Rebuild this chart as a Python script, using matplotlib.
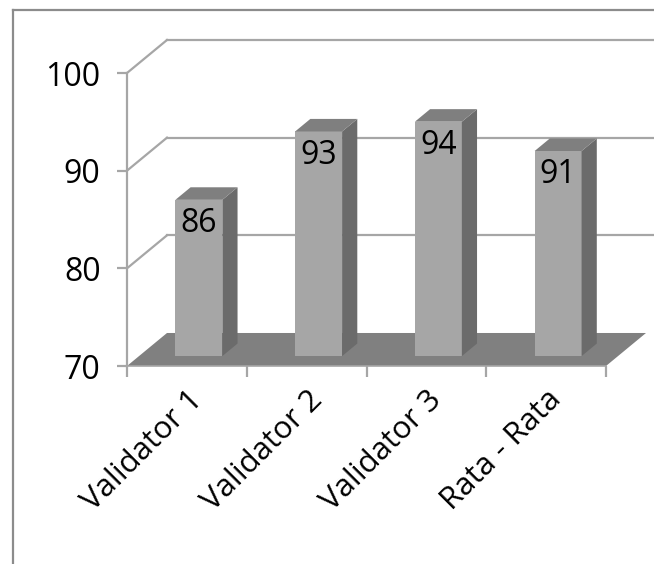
import numpy as np
import matplotlib
matplotlib.use('Agg')
import matplotlib.pyplot as plt
from matplotlib.patches import Polygon
from matplotlib.lines import Line2D
from matplotlib.transforms import offset_copy

# data
categories = ['Validator 1', 'Validator 2', 'Validator 3', 'Rata - Rata']
values = [86, 93, 94, 91]
y_ticks = [70, 80, 90, 100]

plt.rcParams['font.family'] = ['Open Sans', 'DejaVu Sans']

fig = plt.figure(figsize=(6.54, 5.64), dpi=100)
# front plane of the fake 3d box
ax = fig.add_axes([127 / 654, 198 / 564, 479 / 654, 293 / 564])
ax.set_xlim(0, len(categories))
ax.set_ylim(70, 100)

grid_col = '#a6a6a6'
dx, dy = 0.334, 3.38      # depth offset in data units
d0, d1 = 0.30, 0.68       # bar depth (fraction of box depth)
half_w = 0.196

# walls: gridlines on back wall + diagonals on side wall
for v in y_ticks[1:]:
    ax.plot([0, dx], [v, v + dy], color=grid_col, lw=1.6, clip_on=False, zorder=1)
    ax.plot([dx, 4.6], [v + dy, v + dy], color=grid_col, lw=1.6, clip_on=False, zorder=1)

# floor
floor = Polygon([(0, 70), (4, 70), (4 + dx, 70 + dy), (dx, 70 + dy)],
                closed=True, facecolor='#808080', edgecolor='none', zorder=2, clip_on=False)
ax.add_patch(floor)

# bars
for i, v in enumerate(values):
    c = i + 0.5
    xl, xr = c - half_w, c + half_w
    front = Polygon([(xl + d0 * dx, 70 + d0 * dy), (xr + d0 * dx, 70 + d0 * dy),
                     (xr + d0 * dx, v + d0 * dy), (xl + d0 * dx, v + d0 * dy)],
                    facecolor='#a6a6a6', edgecolor='none', zorder=3, clip_on=False)
    side = Polygon([(xr + d0 * dx, 70 + d0 * dy), (xr + d1 * dx, 70 + d1 * dy),
                    (xr + d1 * dx, v + d1 * dy), (xr + d0 * dx, v + d0 * dy)],
                   facecolor='#6b6b6b', edgecolor='none', zorder=3, clip_on=False)
    top = Polygon([(xl + d0 * dx, v + d0 * dy), (xr + d0 * dx, v + d0 * dy),
                   (xr + d1 * dx, v + d1 * dy), (xl + d1 * dx, v + d1 * dy)],
                  facecolor='#7f7f7f', edgecolor='none', zorder=3, clip_on=False)
    for p in (front, side, top):
        ax.add_patch(p)
    tr = offset_copy(ax.transData, fig=fig, x=0, y=-17, units='points')
    ax.text(c + d0 * dx, v + d0 * dy, str(v), transform=tr, ha='center', va='center',
            fontsize=23, color='black', zorder=4)

# axes styling
for s in ['top', 'right', 'bottom']:
    ax.spines[s].set_visible(False)
ax.spines['left'].set_color(grid_col)
ax.spines['left'].set_linewidth(1.6)
ax.set_yticks(y_ticks)
ax.set_yticklabels([str(t) for t in y_ticks], fontsize=23)
ax.tick_params(axis='y', length=7, width=1.6, color=grid_col, pad=12)

ax.set_xticks(np.arange(len(categories) + 1))
ax.set_xticklabels([])
ax.tick_params(axis='x', length=8, width=1.6, color=grid_col, direction='out')
ax.plot([0, 4], [70, 70], color=grid_col, lw=1.2, zorder=2.5, clip_on=False)

for i, name in enumerate(categories):
    tr = offset_copy(ax.transData, fig=fig, x=8, y=-21, units='points')
    ax.text(i + 0.5, 70, name, transform=tr, rotation=45, rotation_mode='anchor',
            ha='right', va='center', fontsize=22.5, color='black')

ax.set_facecolor('none')

# chart border
fig.add_artist(Line2D([13 / 654, 13 / 654], [0, 1 - 10 / 564], color='#8c8c8c', lw=1.6))
fig.add_artist(Line2D([13 / 654, 1], [1 - 10 / 564, 1 - 10 / 564], color='#8c8c8c', lw=1.6))

fig.savefig('out.png', dpi=100, facecolor='white')
